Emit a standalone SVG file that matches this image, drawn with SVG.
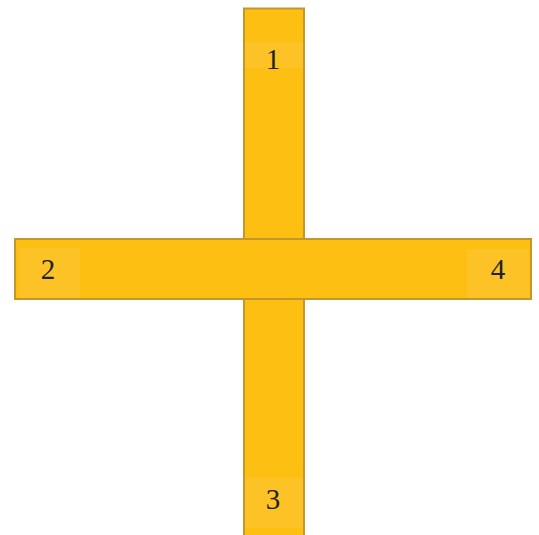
<svg xmlns="http://www.w3.org/2000/svg" width="539" height="535" viewBox="0 0 539 535">
<style>
.bar{fill:#FDBF12;stroke:#C4962E;stroke-width:2}
.lab{fill:#FDC225}
.t{font-family:"Liberation Serif","Times New Roman",serif;font-size:29px;fill:#222;text-anchor:middle}
</style>
<rect width="539" height="535" fill="#fff"/>
<g id="vertical">
<rect class="bar" x="244" y="8.5" width="60" height="540"/>
</g>
<g id="horizontal">
<rect class="bar" x="15" y="239" width="516" height="60"/>
</g>
<g id="node1">
<rect class="lab" x="245" y="42" width="58" height="26"/>
<text class="t" x="273" y="69">1</text>
</g>
<g id="node2">
<rect class="lab" x="19" y="248" width="61" height="50"/>
<text class="t" x="48" y="279">2</text>
</g>
<g id="node4">
<rect class="lab" x="467" y="249" width="62" height="49"/>
<text class="t" x="498" y="279">4</text>
</g>
<g id="node3">
<rect class="lab" x="245" y="478" width="58" height="50"/>
<text class="t" x="273" y="509">3</text>
</g>
</svg>
